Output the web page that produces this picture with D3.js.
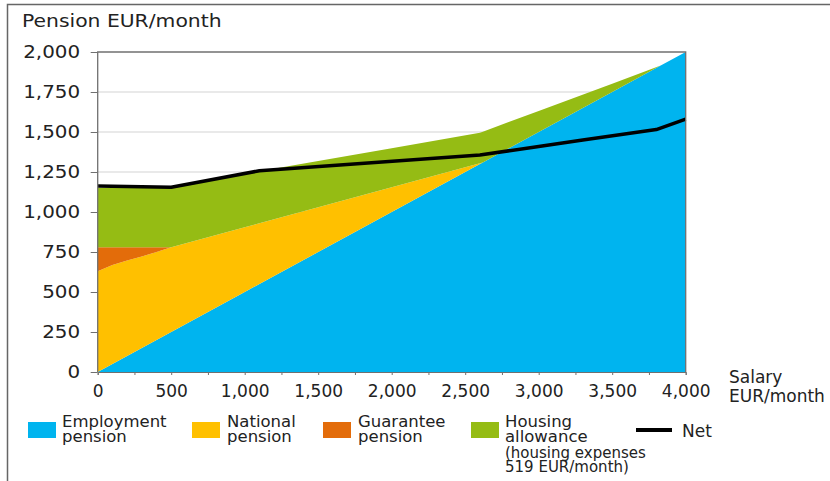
<!DOCTYPE html>
<html>
<head>
<meta charset="utf-8">
<script src="https://cdnjs.cloudflare.com/ajax/libs/d3/7.8.5/d3.min.js"></script>
<style>
  body { margin: 0; background: #fff; }
  text { font-family: "DejaVu Sans", Verdana, sans-serif; fill: #222; }
</style>
</head>
<body>
<svg id="chart" width="830" height="481"></svg>
<script>
// salary points (EUR/month) and the stacked components
var salary     = [0, 100, 200, 300, 400, 500, 1000, 1100, 1500, 2000, 2600, 2620, 3000, 3500, 3830, 4000];
var employment = [0, 50, 100, 150, 200, 250, 500, 550, 750, 1000, 1300, 1310, 1500, 1750, 1915, 2000];
var national   = [630, 618, 597, 572, 550, 530, 405, 380, 280, 155, 5, 0, 0, 0, 0, 0];
var guarantee  = [150, 112, 83, 58, 30, 0, 0, 0, 0, 0, 0, 0, 0, 0, 0, 0];
var housing    = [370, 370, 370, 370, 370, 370, 333, 325, 289, 244, 190, 192, 132, 52, 0, 0];

var netSalary  = [0, 500, 1100, 2600, 3000, 3300, 3800, 4000];
var net        = [1162, 1155, 1258, 1356, 1410, 1450, 1515, 1580];

var yTicks = [0, 250, 500, 750, 1000, 1250, 1500, 1750, 2000];
var xTicks = [0, 500, 1000, 1500, 2000, 2500, 3000, 3500, 4000];

var keys = ["employment", "national", "guarantee", "housing"];
var colors = { employment: "#00b4ef", national: "#ffc000", guarantee: "#e36c0a", housing: "#95bc14" };

var rows = salary.map(function (s, i) {
    return { salary: s, employment: employment[i], national: national[i], guarantee: guarantee[i], housing: housing[i] };
});

var svg = d3.select("#chart"),
    pLeft = 97.7, pRight = 685.7, pTop = 52, pBottom = 372;

var x = d3.scaleLinear().domain([0, 4000]).range([pLeft, pRight]),
    y = d3.scaleLinear().domain([0, 2000]).range([pBottom, pTop]);

// outer frame
svg.append("path").attr("d", "M7.5,481 V4.5 H830").attr("fill", "none").attr("stroke", "#666").attr("stroke-width", 1.5);

// gridlines
svg.append("g").selectAll("line").data(yTicks.slice(1, -1)).join("line")
    .attr("x1", pLeft).attr("x2", pRight)
    .attr("y1", function (d) { return y(d); }).attr("y2", function (d) { return y(d); })
    .attr("stroke", "#d4d4d4").attr("stroke-width", 1.2);

// stacked areas
var stack = d3.stack().keys(keys)(rows);
var area = d3.area()
    .x(function (d) { return x(d.data.salary); })
    .y0(function (d) { return y(d[0]); })
    .y1(function (d) { return y(d[1]); });

svg.append("g").selectAll("path").data(stack).join("path")
    .attr("d", area)
    .attr("fill", function (d) { return colors[d.key]; });

// net line
var line = d3.line()
    .x(function (d, i) { return x(netSalary[i]); })
    .y(function (d) { return y(d); });
svg.append("path").datum(net).attr("d", line)
    .attr("fill", "none").attr("stroke", "#000").attr("stroke-width", 3.5).attr("stroke-linejoin", "round");

// plot frame
svg.append("path").attr("d", "M" + pLeft + "," + pBottom + " V" + pTop + " H" + pRight + " V" + pBottom)
    .attr("fill", "none").attr("stroke", "#707070").attr("stroke-width", 1.3);

// y axis
var yAxis = svg.append("g").attr("transform", "translate(" + pLeft + ",0)")
    .call(d3.axisLeft(y).tickValues(yTicks).tickFormat(d3.format(",")).tickSize(7).tickPadding(8));
yAxis.select(".domain").remove();
yAxis.selectAll(".tick line").attr("stroke", "#707070");
yAxis.selectAll(".tick text").attr("font-size", 17).attr("transform", "scale(1.17,1)").style("fill", "#222");

// x axis
var xAxis = svg.append("g").attr("transform", "translate(0," + pBottom + ")")
    .call(d3.axisBottom(x).tickValues(d3.range(0, 4001, 250)).tickSize(3).tickPadding(10)
        .tickFormat(function (d) { return xTicks.indexOf(d) >= 0 ? d3.format(",")(d) : ""; }));
xAxis.select(".domain").attr("stroke", "#707070");
xAxis.selectAll(".tick line").attr("stroke", "#707070");
xAxis.selectAll(".tick text").attr("font-size", 17).style("fill", "#222");

// axis titles
svg.append("text").attr("x", 22 / 1.13).attr("y", 27).attr("font-size", 18)
    .attr("transform", "scale(1.13,1)").text("Pension EUR/month");
svg.append("text").attr("x", 729).attr("y", 383).attr("font-size", 17).text("Salary");
svg.append("text").attr("x", 729).attr("y", 401.5).attr("font-size", 17).text("EUR/month");

// legend
var legendItems = [
    { key: "employment", sx: 28, tx: 62, lines: ["Employment", "pension"] },
    { key: "national", sx: 192, tx: 227, lines: ["National", "pension"] },
    { key: "guarantee", sx: 323, tx: 358, lines: ["Guarantee", "pension"] },
    { key: "housing", sx: 471, tx: 505, lines: ["Housing", "allowance"] }
];
var lg = svg.append("g").selectAll("g").data(legendItems).join("g");
lg.append("rect").attr("x", function (d) { return d.sx; }).attr("y", 422)
    .attr("width", 28).attr("height", 16)
    .attr("fill", function (d) { return colors[d.key]; });
lg.each(function (d) {
    var t = d3.select(this).append("text").attr("font-size", 16.5);
    d.lines.forEach(function (s, i) {
        t.append("tspan").attr("x", d.tx).attr("y", 427 + i * 15).text(s);
    });
});
var note = svg.append("text").attr("font-size", 15);
note.append("tspan").attr("x", 505).attr("y", 458).text("(housing expenses");
note.append("tspan").attr("x", 505).attr("y", 472).text("519 EUR/month)");

svg.append("line").attr("x1", 636).attr("x2", 672).attr("y1", 430).attr("y2", 430)
    .attr("stroke", "#000").attr("stroke-width", 4);
svg.append("text").attr("x", 682).attr("y", 437).attr("font-size", 17).text("Net");
</script>
</body>
</html>
